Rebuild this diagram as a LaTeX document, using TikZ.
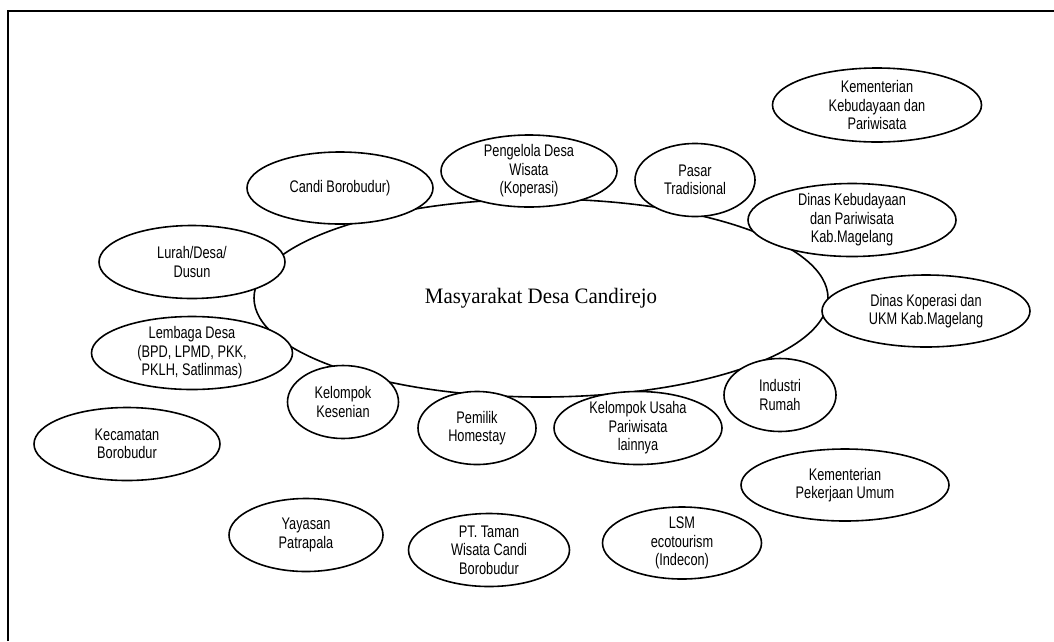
\documentclass[tikz,border=0pt]{standalone}
\usepackage{fontspec}
\setmainfont{Liberation Serif}[FakeStretch=0.95]
\newfontfamily\satfont{Liberation Sans}[FakeStretch=0.76]
\usetikzlibrary{shapes.geometric}
\begin{document}
\begin{tikzpicture}[x=1pt,y=-1pt,
  sat/.style={ellipse, draw, line width=1.6pt, fill=white, inner sep=-6pt, align=center,
    font=\satfont\fontsize{16.8}{18.5}\selectfont},
  hub/.style={ellipse, draw, line width=1.6pt, inner sep=0pt,
    font=\fontsize{22}{26}\selectfont}]
\useasboundingbox (0,0) rectangle (1054,641);
\coordinate (fa) at (8,641);
\coordinate (fb) at (8,11);
\coordinate (fc) at (1054,11);
\draw[line width=2pt] (fa) -- (fb) -- (fc);
\node[hub, minimum width=574pt, minimum height=198pt] (c) at (541,298) {Masyarakat Desa Candirejo};
\node[sat, minimum width=186pt, minimum height=72pt] (candi) at (340,188) {Candi Borobudur)};
\node[sat, minimum width=186pt, minimum height=73pt] (lurah) at (192,262) {Lurah/Desa/\\Dusun};
\node[sat, minimum width=176pt, minimum height=72pt] (peng) at (529,171) {Pengelola Desa\\Wisata\\(Koperasi)};
\node[sat, minimum width=209pt, minimum height=74pt] (kemb) at (877,105) {Kementerian\\Kebudayaan dan\\Pariwisata};
\node[sat, minimum width=120pt, minimum height=73pt] (pasar) at (695,180) {Pasar\\Tradisional};
\node[sat, minimum width=208pt, minimum height=73pt] (dinasb) at (852,220) {Dinas Kebudayaan\\dan Pariwisata\\Kab.Magelang};
\node[sat, minimum width=208pt, minimum height=72pt] (dinask) at (926,311) {Dinas Koperasi dan\\UKM Kab.Magelang};
\node[sat, minimum width=201pt, minimum height=73pt] (lemb) at (192,353) {Lembaga Desa\\(BPD, LPMD, PKK,\\PKLH, Satlinmas)};
\node[sat, minimum width=111pt, minimum height=73pt] (kes) at (343,402) {Kelompok\\Kesenian};
\node[sat, minimum width=186pt, minimum height=73pt] (kec) at (127,444) {Kecamatan\\Borobudur};
\node[sat, minimum width=118pt, minimum height=73pt] (home) at (477,428) {Pemilik\\Homestay};
\node[sat, minimum width=154pt, minimum height=73pt] (yay) at (306,535) {Yayasan\\Patrapala};
\node[sat, minimum width=161pt, minimum height=73pt] (pt) at (489,550) {PT. Taman\\Wisata Candi\\Borobudur};
\node[sat, minimum width=168pt, minimum height=73pt] (usaha) at (638,428) {Kelompok Usaha\\Pariwisata\\lainnya};
\node[sat, minimum width=112pt, minimum height=73pt] (ind) at (780,395) {Industri\\Rumah};
\node[sat, minimum width=208pt, minimum height=72pt] (kpu) at (845,485) {Kementerian\\Pekerjaan Umum};
\node[sat, minimum width=159pt, minimum height=72pt] (lsm) at (682,543) {LSM\\ecotourism\\(Indecon)};
\end{tikzpicture}
\end{document}
